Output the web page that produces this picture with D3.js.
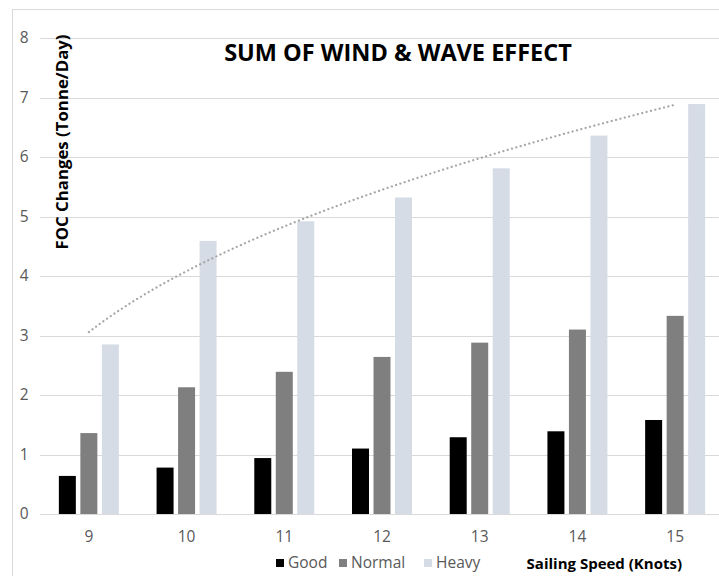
<!DOCTYPE html>
<html>
<head>
<meta charset="utf-8">
<script src="https://cdn.jsdelivr.net/npm/d3@7"></script>
<style>
  html, body { margin: 0; padding: 0; background: #fff; }
  svg { display: block; font-family: "Open Sans", "Noto Sans", sans-serif; }
</style>
</head>
<body>
<svg id="chart" width="719" height="576"></svg>
<script>
// Sailing speeds (knots) on the category axis
const speeds = ["9", "10", "11", "12", "13", "14", "15"];
// FOC change per sea state (tonne/day)
const good   = [0.64, 0.78, 0.94, 1.10, 1.29, 1.39, 1.58];
const normal = [1.36, 2.13, 2.39, 2.64, 2.88, 3.10, 3.33];
const heavy  = [2.85, 4.59, 4.92, 5.32, 5.81, 6.36, 6.89];
const seriesNames = ["Good", "Normal", "Heavy"];
const yTicks = [0, 1, 2, 3, 4, 5, 6, 7, 8];

const colors = { Good: "#000000", Normal: "#7f7f7f", Heavy: "#d6dce5" };
const seriesData = { Good: good, Normal: normal, Heavy: heavy };

const svg = d3.select("#chart");

// chart-area outline
svg.append("rect")
  .attr("x", 12.5).attr("y", 9.5)
  .attr("width", 760).attr("height", 620)
  .attr("fill", "none").attr("stroke", "#d9d9d9").attr("stroke-width", 1);

const plot = { left: 40, right: 724, top: 38, bottom: 514 };

const y = d3.scaleLinear().domain([0, 8]).range([plot.bottom, plot.top]);
const x0 = d3.scaleBand().domain(speeds).range([plot.left, plot.right])
  .paddingInner(0.386).paddingOuter(0.193);
const x1 = d3.scaleBand().domain(seriesNames).range([0, x0.bandwidth()])
  .paddingInner(0.21).paddingOuter(0);

// horizontal gridlines
svg.append("g")
  .selectAll("line")
  .data(yTicks)
  .join("line")
  .attr("x1", plot.left).attr("x2", plot.right)
  .attr("y1", d => Math.round(y(d)) + 0.5).attr("y2", d => Math.round(y(d)) + 0.5)
  .attr("stroke", "#d9d9d9").attr("stroke-width", 1.2);

// y tick labels
svg.append("g")
  .selectAll("text")
  .data(yTicks)
  .join("text")
  .attr("x", 28.5).attr("y", d => y(d))
  .attr("dy", "0.35em")
  .attr("text-anchor", "end")
  .attr("fill", "#595959")
  .attr("font-size", 15.5)
  .text(d => d);

// x tick labels
svg.append("g")
  .selectAll("text")
  .data(speeds)
  .join("text")
  .attr("x", d => x0(d) + x0.bandwidth() / 2)
  .attr("y", 537).attr("dy", "0.35em")
  .attr("text-anchor", "middle")
  .attr("fill", "#595959")
  .attr("font-size", 15.5)
  .text(d => d);

// grouped bars
const groups = svg.append("g")
  .selectAll("g")
  .data(speeds)
  .join("g")
  .attr("transform", d => `translate(${x0(d)},0)`);

groups.selectAll("rect")
  .data((d, i) => seriesNames.map(s => ({ s, v: seriesData[s][i] })))
  .join("rect")
  .attr("x", d => x1(d.s))
  .attr("width", x1.bandwidth())
  .attr("y", d => y(d.v))
  .attr("height", d => y(0) - y(d.v))
  .attr("fill", d => colors[d.s]);

// power trendline (y = a * t^b, t = category index) fitted to the Heavy series
const lx = heavy.map((_, i) => Math.log(i + 1));
const ly = heavy.map(v => Math.log(v));
const mx = d3.mean(lx), my = d3.mean(ly);
const b = d3.sum(lx, (v, i) => (v - mx) * (ly[i] - my)) / d3.sum(lx, v => (v - mx) * (v - mx));
const a = Math.exp(my - b * mx);
const xt = d3.scaleLinear()
  .domain([1, speeds.length])
  .range([x0(speeds[0]) + x0.bandwidth() / 2, x0(speeds[speeds.length - 1]) + x0.bandwidth() / 2]);
const trendPts = d3.range(1, speeds.length + 0.001, 0.05).map(t => [xt(t), y(a * Math.pow(t, b))]);

svg.append("path")
  .datum(trendPts)
  .attr("d", d3.line())
  .attr("fill", "none")
  .attr("stroke", "#a6a6a6")
  .attr("stroke-width", 2.2)
  .attr("stroke-linecap", "round")
  .attr("stroke-dasharray", "0.1 4.4");

// title
svg.append("text")
  .attr("x", 398).attr("y", 53).attr("dy", "0.35em")
  .attr("text-anchor", "middle")
  .attr("font-size", 23.5).attr("font-weight", "bold")
  .attr("fill", "#000")
  .text("SUM OF WIND & WAVE EFFECT");

// y-axis title
svg.append("text")
  .attr("transform", "translate(62,142) rotate(-90)")
  .attr("dy", "0.35em")
  .attr("text-anchor", "middle")
  .attr("font-size", 16.8).attr("font-weight", "bold")
  .attr("fill", "#000")
  .text("FOC Changes (Tonne/Day)");

// x-axis title
svg.append("text")
  .attr("x", 682).attr("y", 564).attr("dy", "0.35em")
  .attr("text-anchor", "end")
  .attr("font-size", 15).attr("font-weight", "bold")
  .attr("fill", "#000")
  .text("Sailing Speed (Knots)");

// legend
const legendX = [276, 339, 424];
const legend = svg.append("g")
  .selectAll("g")
  .data(seriesNames)
  .join("g")
  .attr("transform", (d, i) => `translate(${legendX[i]},563)`);
legend.append("rect")
  .attr("x", 0).attr("y", -4).attr("width", 8).attr("height", 8)
  .attr("fill", d => colors[d]);
legend.append("text")
  .attr("x", 12).attr("y", 0).attr("dy", "0.35em")
  .attr("font-size", 15.5).attr("fill", "#595959")
  .text(d => d);
</script>
</body>
</html>
